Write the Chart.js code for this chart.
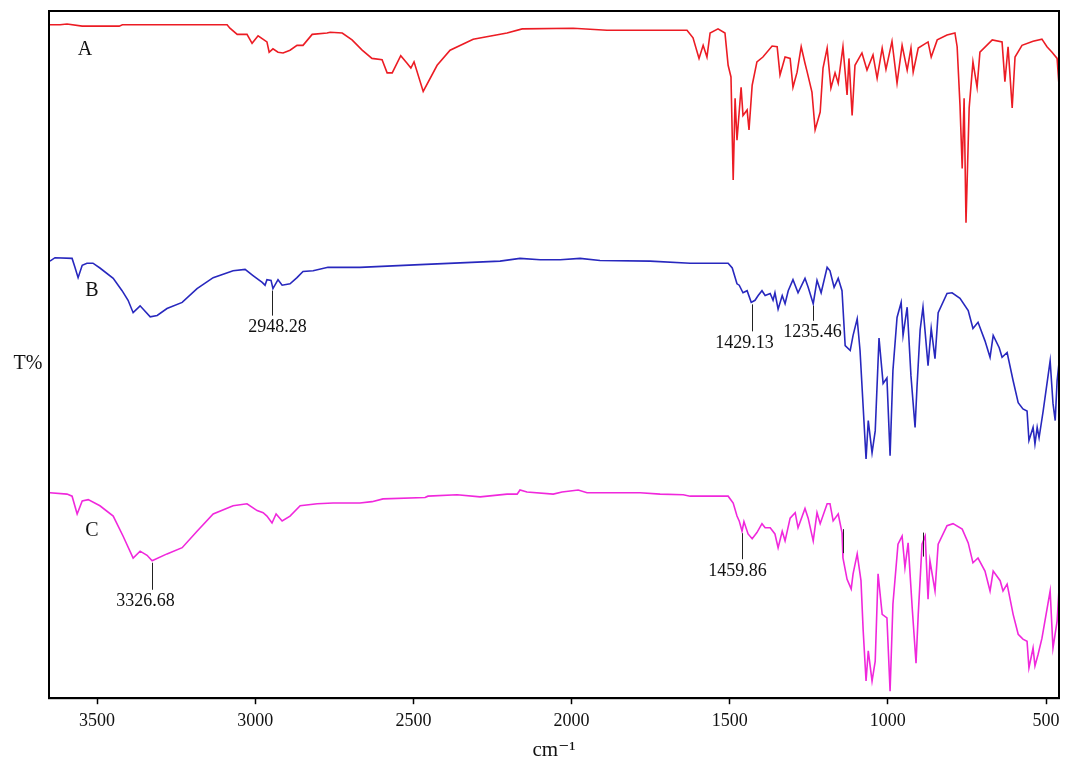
<!DOCTYPE html>
<html>
<head>
<meta charset="utf-8">
<script src="https://cdn.jsdelivr.net/npm/chart.js"></script>
<style>
  html, body { margin: 0; padding: 0; background: #fff; }
  #wrap { width: 1067px; height: 763px; }
</style>
</head>
<body>
<div id="wrap"><canvas id="ir" width="1067" height="763"></canvas></div>
<script>
// IR spectra (T%, offset traces)
const xTicks = [500, 1000, 1500, 2000, 2500, 3000, 3500];

const wnA = [3652, 3617, 3595, 3547, 3430, 3420, 3152, 3089, 3080, 3057, 3026, 3010, 2991, 2963, 2956, 2944, 2928, 2912, 2890, 2868, 2849, 2820, 2773, 2763, 2725, 2694, 2662, 2631, 2599, 2583, 2567, 2540, 2520, 2508, 2498, 2469, 2425, 2384, 2311, 2204, 2156, 1995, 1888, 1635, 1616, 1597, 1584, 1572, 1562, 1537, 1515, 1505, 1496, 1489, 1483, 1477, 1464, 1458, 1445, 1439, 1429, 1414, 1395, 1366, 1350, 1341, 1325, 1309, 1300, 1287, 1274, 1262, 1255, 1240, 1230, 1214, 1205, 1192, 1180, 1167, 1157, 1142, 1129, 1123, 1113, 1104, 1082, 1066, 1047, 1034, 1018, 1006, 987, 971, 955, 939, 927, 920, 904, 873, 863, 844, 813, 788, 781, 772, 765, 759, 753, 743, 731, 718, 709, 670, 639, 630, 620, 607, 598, 576, 541, 513, 497, 481, 465, 459];
const tA  = [98.0, 98.0, 98.1, 97.8, 97.8, 98.0, 98.0, 98.0, 97.5, 96.6, 96.6, 95.3, 96.4, 95.5, 94.0, 94.5, 94.0, 93.9, 94.3, 95.0, 95.0, 96.6, 96.8, 96.9, 96.8, 95.8, 94.3, 93.1, 92.9, 91.0, 91.0, 93.5, 92.4, 91.7, 92.6, 88.3, 92.1, 94.3, 95.9, 96.8, 97.4, 97.5, 97.2, 97.2, 96.1, 93.1, 95.0, 93.3, 96.8, 97.4, 96.8, 92.1, 90.4, 75.4, 87.3, 81.2, 88.9, 84.8, 85.6, 82.7, 89.2, 92.6, 93.3, 94.9, 94.8, 90.7, 93.3, 93.1, 88.9, 91.1, 94.8, 92.4, 91.1, 88.2, 82.7, 85.3, 91.7, 94.6, 88.8, 91.0, 89.5, 94.8, 87.8, 93.1, 84.8, 92.1, 93.9, 91.4, 93.6, 90.2, 94.6, 91.5, 95.6, 89.5, 95.0, 91.4, 94.6, 91.1, 94.6, 95.5, 93.3, 95.8, 96.5, 96.8, 94.8, 86.3, 77.1, 87.3, 69.2, 85.9, 92.6, 88.9, 94.0, 95.8, 95.5, 89.7, 94.8, 85.9, 93.3, 95.0, 95.6, 95.9, 94.8, 94.0, 93.1, 89.2];

const wnB = [3649, 3633, 3579, 3570, 3560, 3547, 3532, 3513, 3491, 3449, 3421, 3402, 3386, 3364, 3332, 3310, 3279, 3231, 3184, 3133, 3070, 3032, 3007, 2978, 2969, 2963, 2950, 2944, 2928, 2915, 2890, 2868, 2849, 2817, 2770, 2669, 2479, 2226, 2163, 2099, 2036, 1973, 1910, 1752, 1625, 1562, 1505, 1492, 1477, 1470, 1458, 1445, 1432, 1420, 1410, 1398, 1388, 1372, 1363, 1357, 1347, 1334, 1325, 1315, 1300, 1284, 1262, 1252, 1236, 1224, 1211, 1192, 1183, 1170, 1157, 1145, 1135, 1119, 1110, 1097, 1088, 1078, 1069, 1062, 1050, 1040, 1028, 1015, 1003, 993, 984, 971, 958, 952, 939, 927, 914, 908, 898, 889, 873, 863, 851, 841, 813, 797, 772, 746, 731, 715, 693, 677, 667, 648, 639, 623, 604, 588, 573, 560, 554, 541, 535, 528, 522, 509, 487, 478, 471, 465, 459];
const tB  = [63.6, 64.1, 64.0, 62.7, 61.2, 63.0, 63.3, 63.3, 62.6, 61.1, 59.3, 57.9, 56.1, 57.1, 55.5, 55.7, 56.7, 57.6, 59.6, 61.2, 62.2, 62.4, 61.5, 60.5, 60.1, 60.9, 60.8, 59.6, 60.9, 60.1, 60.3, 61.2, 62.1, 62.2, 62.7, 62.7, 63.1, 63.6, 64.0, 63.8, 63.8, 64.0, 63.7, 63.6, 63.3, 63.3, 63.3, 62.6, 60.3, 60.1, 59.0, 59.3, 57.6, 57.9, 58.6, 59.3, 58.6, 58.9, 57.9, 59.0, 56.6, 58.6, 57.4, 59.3, 60.9, 59.0, 61.1, 59.8, 57.4, 60.8, 59.0, 62.7, 62.2, 59.8, 61.1, 59.3, 51.3, 50.6, 52.8, 55.2, 50.6, 42.3, 34.8, 40.4, 35.7, 38.9, 52.4, 45.8, 46.6, 35.3, 47.7, 55.4, 57.6, 52.8, 56.9, 46.9, 39.4, 45.2, 53.6, 56.9, 48.4, 53.8, 49.4, 56.1, 58.9, 59.0, 58.2, 56.4, 53.8, 54.7, 52.0, 49.6, 52.8, 51.0, 49.6, 50.3, 46.2, 43.0, 42.1, 41.8, 37.5, 39.4, 37.0, 39.4, 37.9, 41.8, 49.1, 42.9, 40.4, 46.2, 48.8];

const wnC = [3649, 3595, 3579, 3563, 3547, 3528, 3491, 3449, 3418, 3386, 3364, 3342, 3326, 3279, 3231, 3184, 3133, 3070, 3026, 2994, 2975, 2963, 2947, 2934, 2915, 2890, 2858, 2804, 2754, 2669, 2631, 2596, 2463, 2454, 2362, 2289, 2204, 2172, 2163, 2141, 2058, 2030, 1979, 1951, 1783, 1720, 1647, 1625, 1505, 1489, 1477, 1470, 1461, 1455, 1442, 1429, 1414, 1398, 1388, 1372, 1357, 1347, 1334, 1325, 1309, 1293, 1284, 1262, 1252, 1236, 1224, 1214, 1192, 1183, 1173, 1157, 1145, 1142, 1129, 1116, 1110, 1097, 1085, 1078, 1069, 1062, 1050, 1040, 1031, 1018, 1003, 993, 984, 968, 955, 946, 936, 923, 911, 904, 892, 882, 873, 867, 851, 841, 813, 794, 765, 746, 731, 715, 693, 677, 667, 645, 636, 623, 604, 588, 573, 560, 554, 541, 535, 525, 513, 487, 478, 465, 459];
const tC  = [29.9, 29.7, 29.4, 26.8, 28.7, 28.9, 28.0, 26.5, 23.6, 20.4, 21.4, 20.8, 20.0, 21.0, 21.9, 24.3, 26.8, 28.0, 28.3, 27.3, 27.0, 26.5, 25.5, 26.8, 25.8, 26.5, 28.0, 28.3, 28.4, 28.4, 28.6, 29.0, 29.2, 29.4, 29.6, 29.3, 29.7, 29.7, 30.3, 30.0, 29.7, 30.0, 30.3, 29.9, 29.9, 29.7, 29.6, 29.4, 29.4, 28.4, 26.5, 25.8, 24.3, 25.7, 23.9, 23.2, 24.1, 25.4, 24.8, 24.8, 23.9, 21.9, 24.3, 22.9, 26.2, 27.0, 24.8, 27.6, 26.2, 22.9, 27.0, 25.4, 28.3, 28.3, 25.8, 26.8, 24.1, 20.4, 17.3, 15.9, 18.1, 21.0, 17.1, 9.8, 2.5, 6.9, 2.5, 5.4, 18.1, 12.2, 11.7, 1.0, 13.7, 22.4, 23.6, 19.0, 22.6, 13.1, 5.1, 12.2, 22.4, 23.6, 14.4, 20.0, 15.6, 22.4, 25.1, 25.4, 24.6, 22.6, 19.7, 20.4, 18.5, 15.6, 18.5, 17.1, 15.6, 16.6, 12.2, 9.3, 8.6, 8.3, 4.4, 7.3, 4.7, 6.4, 8.7, 15.6, 7.3, 11.2, 15.9];

// marked peaks
const peakWn     = [2948.28, 1429.13, 1235.46, 3326.68, 1459.86];
const peakT      = [59.6, 57.6, 57.4, 20.0, 24.3];
const peakLabels = ['2948.28', '1429.13', '1235.46', '3326.68', '1459.86'];
// stray marker strokes on trace C
const strayWn = [1142, 889];
const strayT  = [24.6, 24.1];

const traceNames = ['A', 'B', 'C'];

const SERIF = '"Liberation Serif", "DejaVu Serif", serif';

function pts(wn, t) { return wn.map((w, i) => ({ x: w, y: t[i] })); }

// label styling (pixel offsets) kept apart from the data
const leaderLen = [25, 27, 15, 27, 26];
const labelDx   = [5, -8, -1, -7, -5];
const nameAt    = [{ x: 3538, y: 94.3 }, { x: 3516, y: 59.3 }, { x: 3516, y: 24.3 }];

const overlay = {
  id: 'overlay',
  afterDatasetsDraw(chart) {
    const { ctx, chartArea: a, scales: { x, y } } = chart;
    ctx.save();
    // frame
    ctx.strokeStyle = '#000';
    ctx.lineWidth = 2;
    ctx.strokeRect(a.left, a.top, a.right - a.left, a.bottom - a.top);

    // peak leaders and labels
    ctx.lineWidth = 1;
    ctx.strokeStyle = '#222';
    ctx.fillStyle = '#111';
    ctx.font = '18px ' + SERIF;
    ctx.textAlign = 'center';
    ctx.textBaseline = 'middle';
    peakWn.forEach((w, i) => {
      const px = Math.round(x.getPixelForValue(w)) + 0.5;
      const py = y.getPixelForValue(peakT[i]) + 2;
      ctx.beginPath();
      ctx.moveTo(px, py);
      ctx.lineTo(px, py + leaderLen[i]);
      ctx.stroke();
      ctx.fillText(peakLabels[i], px + labelDx[i], py + leaderLen[i] + 12);
    });
    strayWn.forEach((w, i) => {
      const px = Math.round(x.getPixelForValue(w)) + 0.5;
      const py = y.getPixelForValue(strayT[i]);
      ctx.beginPath();
      ctx.moveTo(px, py);
      ctx.lineTo(px, py + 24);
      ctx.stroke();
    });

    // trace names
    ctx.font = '20px ' + SERIF;
    traceNames.forEach((n, i) => {
      ctx.fillText(n, x.getPixelForValue(nameAt[i].x), y.getPixelForValue(nameAt[i].y));
    });

    // y-axis label
    ctx.font = '20px ' + SERIF;
    ctx.fillText('T%', 28, (a.top + a.bottom) / 2 + 9);
    ctx.restore();
  }
};

new Chart(document.getElementById('ir'), {
  type: 'line',
  data: {
    datasets: [
      { label: 'A', data: pts(wnA, tA), borderColor: 'rgb(236,28,36)', borderWidth: 1.6 },
      { label: 'B', data: pts(wnB, tB), borderColor: 'rgb(40,40,190)', borderWidth: 1.6 },
      { label: 'C', data: pts(wnC, tC), borderColor: 'rgb(240,40,220)', borderWidth: 1.6 }
    ]
  },
  options: {
    responsive: false,
    animation: false,
    devicePixelRatio: 1,
    layout: { padding: { left: 49, right: 8, top: 11, bottom: 0 } },
    elements: { point: { radius: 0 }, line: { tension: 0 } },
    plugins: { legend: { display: false }, tooltip: { enabled: false } },
    scales: {
      x: {
        type: 'linear',
        reverse: true,
        min: 459,
        max: 3652,
        afterBuildTicks: (s) => { s.ticks = xTicks.map(v => ({ value: v })); },
        ticks: {
          color: '#111',
          padding: 6,
          font: { family: SERIF, size: 18 },
          maxRotation: 0,
          callback: (v) => String(v)
        },
        grid: { drawOnChartArea: false, drawTicks: true, tickLength: 6, tickWidth: 1.5, tickColor: '#000' },
        border: { display: true, color: '#000', width: 2 },
        title: {
          display: true,
          text: 'cm\u207B\u00B9',
          color: '#111',
          font: { family: SERIF, size: 21 },
          padding: { top: 0, bottom: 0 }
        }
      },
      y: { display: false, min: 0, max: 100 }
    }
  },
  plugins: [overlay]
});
</script>
</body>
</html>
